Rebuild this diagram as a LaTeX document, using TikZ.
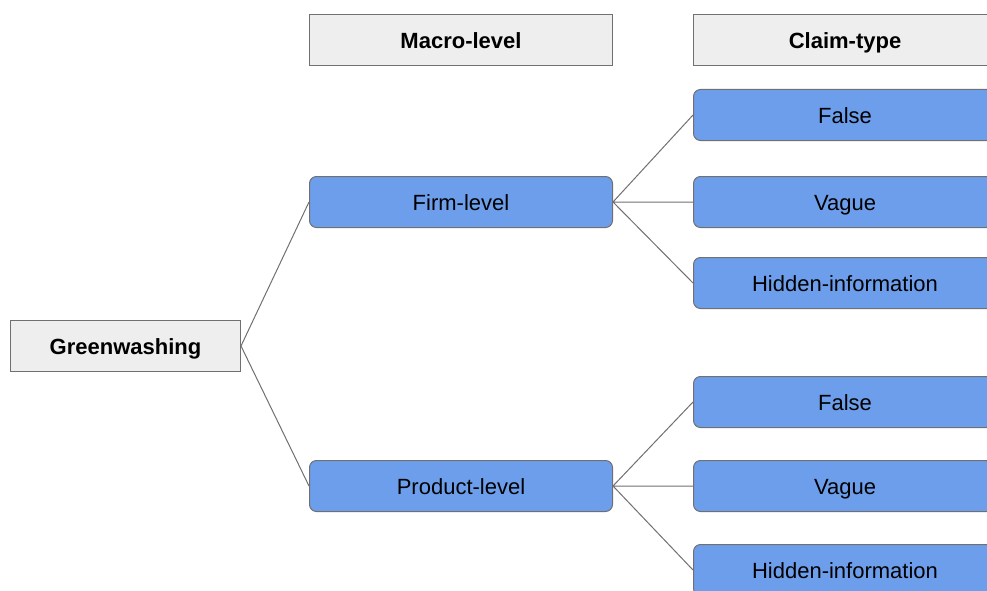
\documentclass[tikz,border=0pt]{standalone}
\usepackage{fontspec}
\setmainfont{Liberation Sans}
\usetikzlibrary{positioning}
\definecolor{boxblue}{HTML}{6D9EEB}
\definecolor{boxgray}{HTML}{EEEEEE}
\definecolor{edgegray}{HTML}{707070}
\tikzset{every picture/.style={line width=1pt}}

\begin{document}
\begin{tikzpicture}[x=1pt,y=-1pt,
    every node/.style={font=\fontsize{22}{26}\selectfont, inner sep=0pt, minimum height=51pt, text height=17pt, text depth=0pt},
    head/.style={draw=edgegray, fill=boxgray, font=\fontsize{22}{26}\selectfont\bfseries, minimum width=303pt},
    leaf/.style={draw=edgegray, fill=boxblue, rounded corners=7pt, minimum width=303pt},
    link/.style={draw=edgegray}]
    \useasboundingbox (0,0) rectangle (987,591);
    \clip (0,0) rectangle (987,591);
        \node[head, minimum width=230pt] (gw) at (125.5,346) {Greenwashing};
        \node[leaf, above right=92pt and 68pt of gw] (firm) {Firm-level};
        \node[leaf, below right=88pt and 68pt of gw] (prod) {Product-level};
        \node[head, above=110pt of firm] (macro) {Macro-level};
        \node[head, right=80pt of macro] (claim) {Claim-type};
        \node[leaf, right=80pt of firm] (vague1) {Vague};
        \node[leaf, above=35pt of vague1] (false1) {False};
        \node[leaf, below=29pt of vague1] (hidden1) {Hidden-information};
        \node[leaf, right=80pt of prod] (vague2) {Vague};
        \node[leaf, above=32pt of vague2] (false2) {False};
        \node[leaf, below=32pt of vague2] (hidden2) {Hidden-information};
        \draw[link]
            (gw.east) -- (firm.west)
            (gw.east) -- (prod.west)
            (firm.east) -- (false1.west)
            (firm.east) -- (vague1.west)
            (firm.east) -- (hidden1.west)
            (prod.east) -- (false2.west)
            (prod.east) -- (vague2.west)
            (prod.east) -- (hidden2.west)
            ;
    \end{tikzpicture}
\end{document}
